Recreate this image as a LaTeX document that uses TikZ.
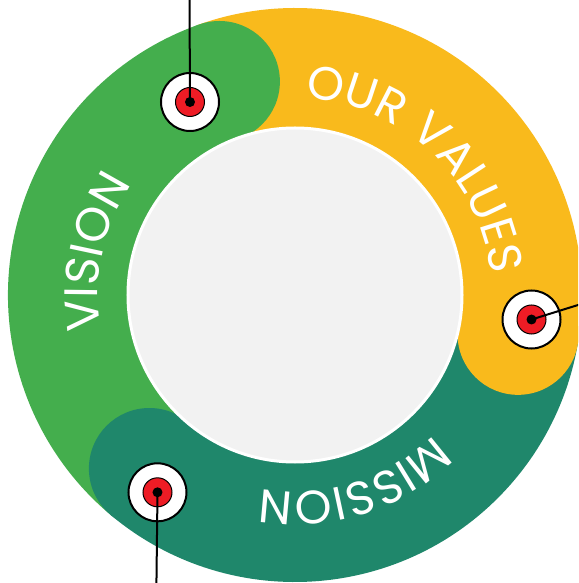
\documentclass[tikz,border=0pt]{standalone}
\usepackage{fontspec}
\setmainfont{Poppins}
\newfontfamily\ringfont{Poppins}[LetterSpace=4]
\usetikzlibrary{decorations.text}
\definecolor{vgreen}{HTML}{44AE4D}
\definecolor{vyellow}{HTML}{F9BA1C}
\definecolor{vteal}{HTML}{1F876B}
\definecolor{vred}{HTML}{EE1C25}
\definecolor{hubgray}{HTML}{F2F2F2}
\newcommand\ringtextfont{\ringfont\fontsize{47}{47}\selectfont}
\tikzset{
  band/.style={line width=121pt, line cap=butt},
  capdisc/.style={circle, inner sep=0pt, minimum size=121pt},
  ringtext/.style={decorate, decoration={text along path, text align=center, text color=white, text={|\ringtextfont|#1}}},
  ringmarker/.style={circle, fill=white, draw=black, line width=2pt, minimum size=58pt, inner sep=0pt},
  bullseye/.style={circle, fill=vred, draw=black, line width=1pt, minimum size=29pt, inner sep=0pt},
  pindot/.style={circle, fill=black, minimum size=10pt, inner sep=0pt},
  pinline/.style={draw=black, line width=2pt},
}
\begin{document}
\begin{tikzpicture}[x=1pt,y=1pt]
\useasboundingbox (-295,-288) rectangle (283,295);
\clip (-295,-288) rectangle (283,295);
% ring bands
\draw[band, vgreen] (109.5:226.5) arc[start angle=109.5, end angle=230.5, radius=226.5];
\draw[band, vteal] (230:226.5) arc[start angle=230, end angle=350.5, radius=226.5];
\draw[band, vyellow] (350:226.5) arc[start angle=350, end angle=470, radius=226.5];
% rounded heads
\node[capdisc, fill=vgreen] (capV) at (109.5:226.5) {};
\node[capdisc, fill=vteal] (capM) at (230:226.5) {};
\node[capdisc, fill=vyellow] (capO) at (350:226.5) {};
% hub
\node[circle, fill=hubgray, draw=white, line width=3pt, minimum size=334pt, inner sep=0pt] (hub) at (0,0) {};
% labels along the ring
\path[ringtext=OUR VALUES] (106.5:197) arc[start angle=106.5, end angle=-13.5, radius=197];
\path[ringtext=VISION] (228:197) arc[start angle=228, end angle=108, radius=197];
\path[ringtext=MISSION] (-12.5:197) arc[start angle=-12.5, end angle=-132.5, radius=197];
% markers
\node[ringmarker] (m1) at (-105,193) {};
\node[bullseye] (b1) at (m1) {};
\coordinate (e1) at (-105.5,300);
\draw[pinline] (m1.center) -- (e1);
\node[pindot] (d1) at (m1) {};

\node[ringmarker] (m2) at (236.5,-24.5) {};
\node[bullseye] (b2) at (m2) {};
\coordinate (e2) at (292,-7.2);
\draw[pinline] (m2.center) -- (e2);
\node[pindot] (d2) at (m2) {};

\node[ringmarker] (m3) at (-137.5,-197.3) {};
\node[bullseye] (b3) at (m3) {};
\coordinate (e3) at (-138.7,-300);
\draw[pinline] (m3.center) -- (e3);
\node[pindot] (d3) at (m3) {};
\end{tikzpicture}
\end{document}
